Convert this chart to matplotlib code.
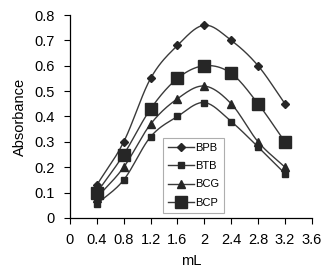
import matplotlib.pyplot as plt
import numpy as np

plt.rcParams["font.family"] = ["Liberation Sans", "DejaVu Sans"]

# Data
volume = [0.4, 0.8, 1.2, 1.6, 2.0, 2.4, 2.8, 3.2]
bpb = [0.13, 0.30, 0.55, 0.68, 0.76, 0.70, 0.60, 0.45]
btb = [0.055, 0.15, 0.32, 0.40, 0.455, 0.38, 0.28, 0.175]
bcg = [0.08, 0.20, 0.37, 0.47, 0.52, 0.45, 0.30, 0.20]
bcp = [0.10, 0.25, 0.43, 0.55, 0.60, 0.57, 0.45, 0.30]
x_ticks = [0, 0.4, 0.8, 1.2, 1.6, 2, 2.4, 2.8, 3.2, 3.6]
x_tick_labels = ["0", "0.4", "0.8", "1.2", "1.6", "2", "2.4", "2.8", "3.2", "3.6"]
y_ticks = [0, 0.1, 0.2, 0.3, 0.4, 0.5, 0.6, 0.7, 0.8]
y_tick_labels = ["0", "0.1", "0.2", "0.3", "0.4", "0.5", "0.6", "0.7", "0.8"]


def smooth(x, y, n=20):
    # Catmull-Rom curve through the points, like Excel's smoothed line
    x = np.asarray(x, float)
    y = np.asarray(y, float)
    px = np.concatenate([[2 * x[0] - x[1]], x, [2 * x[-1] - x[-2]]])
    py = np.concatenate([[2 * y[0] - y[1]], y, [2 * y[-1] - y[-2]]])
    xs, ys = [], []
    t = np.linspace(0, 1, n, endpoint=False)
    for i in range(1, len(px) - 2):
        for p, out in ((px, xs), (py, ys)):
            p0, p1, p2, p3 = p[i - 1], p[i], p[i + 1], p[i + 2]
            out.extend(0.5 * (2 * p1 + (-p0 + p2) * t
                              + (2 * p0 - 5 * p1 + 4 * p2 - p3) * t ** 2
                              + (-p0 + 3 * p1 - 3 * p2 + p3) * t ** 3))
    xs.append(x[-1])
    ys.append(y[-1])
    return xs, ys


fig = plt.figure(figsize=(3.3, 2.78), dpi=100)
ax = fig.add_axes([0.212, 0.216, 0.733, 0.73])

series = [
    ("BPB", bpb, "D", 4.5),
    ("BTB", btb, "s", 5),
    ("BCG", bcg, "^", 6),
    ("BCP", bcp, "s", 8),
]
line_color = "#3a3a3a"
marker_color = "#262626"
for name, vals, mk, ms in series:
    sx, sy = smooth(volume, vals)
    ax.plot(sx, sy, color=line_color, lw=1.0)
    ax.plot(volume, vals, linestyle="none", marker=mk, ms=ms,
            color=marker_color, mec=marker_color)
    ax.plot([], [], color=line_color, lw=1.0, marker=mk, ms=ms,
            mfc=marker_color, mec=marker_color, label=name)

ax.set_xlim(0, 3.6)
ax.set_ylim(0, 0.8)
ax.set_xticks(x_ticks)
ax.set_xticklabels(x_tick_labels)
ax.set_yticks(y_ticks)
ax.set_yticklabels(y_tick_labels)
ax.tick_params(direction="out", length=4, width=0.8, labelsize=10.5,
               colors="black", pad=7)
for side in ("top", "right"):
    ax.spines[side].set_visible(False)
for side in ("left", "bottom"):
    ax.spines[side].set_linewidth(0.9)

ax.set_xlabel("mL", fontsize=10.5, labelpad=5)
ax.set_ylabel("Absorbance", fontsize=10.5, labelpad=5)

leg = ax.legend(loc="upper left", bbox_to_anchor=(0.385, 0.395), fontsize=8,
                frameon=True, fancybox=False, handlelength=2.3,
                handletextpad=0.1, borderpad=0.45, labelspacing=0.75,
                borderaxespad=0)
leg.get_frame().set_edgecolor("#9a9a9a")
leg.get_frame().set_linewidth(0.8)

fig.savefig("out.png", dpi=100)
